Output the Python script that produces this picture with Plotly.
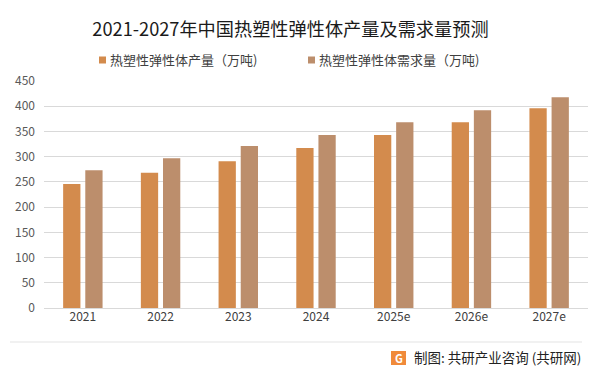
import plotly.graph_objects as go

categories = ["2021", "2022", "2023", "2024", "2025e", "2026e", "2027e"]
production = [246, 268, 291, 317, 343, 368, 396]
demand = [273, 297, 321, 343, 368, 392, 418]
series_names = ["热塑性弹性体产量（万吨)", "热塑性弹性体需求量（万吨)"]
series_colors = ["#D38B4D", "#BC8E6C"]
title_text = "2021-2027年中国热塑性弹性体产量及需求量预测"
source_text = "制图: 共研产业咨询 (共研网)"
y_ticks = [0, 50, 100, 150, 200, 250, 300, 350, 400, 450]

FONT = "Microsoft YaHei, Noto Sans CJK SC, sans-serif"
W, H = 601, 375
L, R, T, B = 44, 13, 81, 67


def px_x(x):
    return (x - L) / (W - L - R)


def px_y(y):
    return (H - B - y) / (H - T - B)


fig = go.Figure()
fig.add_trace(go.Bar(x=categories, y=production, name=series_names[0],
                     marker=dict(color=series_colors[0], line=dict(width=0))))
fig.add_trace(go.Bar(x=categories, y=demand, name=series_names[1],
                     marker=dict(color=series_colors[1], line=dict(width=0))))

shapes = [
    dict(type="line", xref="paper", yref="paper", x0=px_x(10), x1=px_x(582),
         y0=px_y(342), y1=px_y(342), line=dict(color="#E3E3E3", width=1)),
    dict(type="rect", xref="paper", yref="paper", x0=px_x(391), x1=px_x(406),
         y0=px_y(365), y1=px_y(351), fillcolor="#F08A3A", line=dict(width=0)),
]
annotations = [
    dict(text="<b>G</b>", xref="paper", yref="paper", x=px_x(398.5), y=px_y(358),
         xanchor="center", yanchor="middle", showarrow=False,
         font=dict(family=FONT, size=11, color="white")),
    dict(text=source_text, xref="paper", yref="paper", x=px_x(583), y=px_y(357),
         xanchor="right", yanchor="middle", showarrow=False,
         font=dict(family=FONT, size=13.5, color="#222222")),
]
# manual legend
for name, color, mx in zip(series_names, series_colors, [99, 308]):
    shapes.append(dict(type="rect", xref="paper", yref="paper",
                       x0=px_x(mx), x1=px_x(mx + 7), y0=px_y(63.5), y1=px_y(56.5),
                       fillcolor=color, line=dict(width=0)))
    annotations.append(dict(text=name, xref="paper", yref="paper",
                            x=px_x(mx + 9), y=px_y(60), xanchor="left", yanchor="middle",
                            showarrow=False,
                            font=dict(family=FONT, size=13, color="#404040")))

fig.update_layout(
    width=W, height=H,
    paper_bgcolor="white", plot_bgcolor="white",
    margin=dict(l=L, r=R, t=T, b=B, autoexpand=False),
    barmode="group", bargap=0.43, bargroupgap=0.22,
    showlegend=False,
    font=dict(family=FONT, size=12, color="#595959"),
    title=dict(text=title_text, x=290.5 / W, xanchor="center", y=1 - 30 / H, yanchor="middle",
               font=dict(family=FONT, size=18.2, color="#1a1a1a")),
    xaxis=dict(showline=False, ticks="", tickfont=dict(size=12, color="#404040"),
               showgrid=False, automargin=False),
    yaxis=dict(range=[0, 450], tickvals=y_ticks, showgrid=True, gridcolor="#D9D9D9",
               gridwidth=1, zeroline=True, zerolinecolor="#D9D9D9", zerolinewidth=1,
               ticks="", tickfont=dict(size=12, color="#595959"), ticklabelstandoff=8,
               automargin=False),
    shapes=shapes,
    annotations=annotations,
)

fig.write_html("out.html", config={"displayModeBar": False},
               post_script="document.body.style.margin='0';")
